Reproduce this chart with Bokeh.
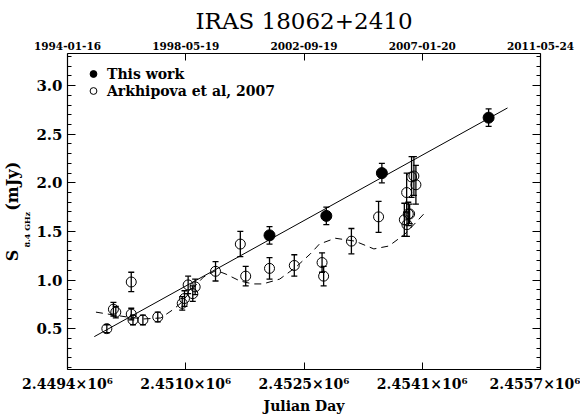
from bokeh.plotting import figure
from bokeh.models import (ColumnDataSource, Range1d, LinearAxis, FixedTicker,
                          SingleIntervalTicker, Whisker, TeeHead, Legend, LegendItem,
                          PrintfTickFormatter, CustomJSTickFormatter, Title)
from bokeh.embed import file_html
from bokeh.resources import INLINE

# ---------------- data ----------------
title_text = "IRAS 18062+2410"
x_label = "Julian Day"
y_label_main = "S\u00a0\u00a0\u00a0\u00a0\u00a0\u00a0\u00a0(mJy)"
y_label_sub = "8.4 GHz"

x_ticks = [2449368, 2450952, 2452536, 2454120, 2455704]
x_tick_labels = ["2.4494\u00d710\u2076", "2.4510\u00d710\u2076", "2.4525\u00d710\u2076",
                 "2.4541\u00d710\u2076", "2.4557\u00d710\u2076"]
date_tick_labels = ["1994-01-16", "1998-05-19", "2002-09-19", "2007-01-20", "2011-05-24"]

this_jd = [2452074, 2452835, 2453579, 2455009]
this_flux = [1.46, 1.66, 2.10, 2.67]
this_err = [0.09, 0.09, 0.10, 0.09]

ark_jd = [2449895, 2449983, 2450015, 2450222, 2450222, 2450245, 2450378, 2450577,
          2450905, 2450935, 2450984, 2451046, 2451078, 2451351, 2451683, 2451755,
          2452074, 2452406, 2452778, 2452799, 2453171, 2453535,
          2453880, 2453911, 2453915, 2453933, 2453951, 2453977, 2454008, 2454035]
ark_flux = [0.50, 0.70, 0.67, 0.98, 0.65, 0.59, 0.59, 0.62,
            0.76, 0.81, 0.95, 0.86, 0.93, 1.09, 1.37, 1.04,
            1.12, 1.15, 1.18, 1.04, 1.40, 1.65,
            1.62, 1.90, 1.57, 1.68, 1.68, 2.06, 2.07, 1.98]
ark_err = [0.04, 0.07, 0.06, 0.10, 0.06, 0.05, 0.05, 0.05,
           0.07, 0.08, 0.09, 0.08, 0.08, 0.10, 0.13, 0.10,
           0.11, 0.11, 0.10, 0.10, 0.13, 0.16,
           0.17, 0.20, 0.12, 0.12, 0.10, 0.21, 0.20, 0.20]

fit_jd = [2449727, 2455262]
fit_flux = [0.418, 2.77]

curve_jd = [2449749, 2449992, 2450165, 2450391, 2450617, 2450790, 2450896, 2451055,
            2451188, 2451360, 2451493, 2451679, 2451852, 2451985, 2452211, 2452423,
            2452622, 2452742, 2452955, 2453220, 2453472, 2453672, 2453884, 2454044, 2454177]
curve_flux = [0.67, 0.64, 0.62, 0.60, 0.61, 0.70, 0.77, 0.92,
              1.03, 1.10, 1.06, 0.99, 0.96, 0.96, 1.01, 1.13,
              1.27, 1.37, 1.43, 1.40, 1.32, 1.35, 1.47, 1.60, 1.71]

# ---------------- styling ----------------
SERIF = "DejaVu Serif"

p = figure(width=580, height=416, output_backend="svg", toolbar_location=None,
           x_range=Range1d(x_ticks[0], x_ticks[-1]), y_range=Range1d(0.08, 3.33),
           x_axis_type=None, y_axis_type=None,
           min_border_left=63, min_border_right=40, min_border_top=53, min_border_bottom=47)
p.grid.visible = False
p.outline_line_color = None
p.background_fill_color = "white"

p.title.text = title_text
p.title.align = "center"
p.title.text_font = SERIF
p.title.text_font_style = "normal"
p.title.text_font_size = "23px"
p.title.text_color = "black"
p.title.standoff = 10


def style_axis(ax, label_size):
    ax.axis_line_color = "black"
    ax.axis_line_width = 1.2
    ax.major_tick_line_color = "black"
    ax.minor_tick_line_color = "black"
    ax.major_tick_in = 7
    ax.major_tick_out = 0
    ax.minor_tick_in = 4
    ax.minor_tick_out = 0
    ax.major_label_text_font = SERIF
    ax.major_label_text_font_style = "bold"
    ax.major_label_text_font_size = label_size
    ax.major_label_text_color = "black"


xb = LinearAxis(ticker=FixedTicker(ticks=x_ticks),
                major_label_overrides={t: l for t, l in zip(x_ticks, x_tick_labels)})
style_axis(xb, "14px")
xb.major_label_standoff = 6
xb.axis_label = x_label
xb.axis_label_text_font = SERIF
xb.axis_label_text_font_style = "bold"
xb.axis_label_text_font_size = "14px"
xb.axis_label_text_color = "black"
xb.axis_label_standoff = 3
p.add_layout(xb, "below")

xt = LinearAxis(ticker=FixedTicker(ticks=x_ticks),
                major_label_overrides={t: l for t, l in zip(x_ticks, date_tick_labels)})
style_axis(xt, "10.5px")
xt.major_label_standoff = 4
p.add_layout(xt, "above")

yl = LinearAxis(ticker=SingleIntervalTicker(interval=0.5, num_minor_ticks=5),
                formatter=PrintfTickFormatter(format="%.1f"))
style_axis(yl, "15px")
yl.major_tick_in = 8
yl.major_label_standoff = 5
p.add_layout(yl, "left")

# y-axis label: subscript next to the axis, main text outside it
t_sub = Title(text=y_label_sub, align="left", offset=122, vertical_align="top",
              text_font=SERIF, text_font_style="bold", text_font_size="8px",
              text_color="black", standoff=0)
p.add_layout(t_sub, "left")
t_main = Title(text=y_label_main, align="center", vertical_align="bottom",
               text_font=SERIF, text_font_style="bold", text_font_size="16px",
               text_color="black", standoff=0)
p.add_layout(t_main, "left")

yr = LinearAxis(ticker=SingleIntervalTicker(interval=0.5, num_minor_ticks=5),
                formatter=CustomJSTickFormatter(code="return ''"))
style_axis(yr, "1px")
yr.major_tick_in = 8
yr.major_label_standoff = 0
p.add_layout(yr, "right")

# curves
p.line(curve_jd, curve_flux, line_color="black", line_dash="7 5", line_width=1)
p.line(fit_jd, fit_flux, line_color="black", line_width=1)

# error bars
src_ark = ColumnDataSource(dict(x=ark_jd, y=ark_flux,
                                lo=[f - e for f, e in zip(ark_flux, ark_err)],
                                hi=[f + e for f, e in zip(ark_flux, ark_err)]))
src_this = ColumnDataSource(dict(x=this_jd, y=this_flux,
                                 lo=[f - e for f, e in zip(this_flux, this_err)],
                                 hi=[f + e for f, e in zip(this_flux, this_err)]))
for src in (src_ark, src_this):
    w = Whisker(source=src, base="x", lower="lo", upper="hi", dimension="height",
                line_color="black", line_width=1.3,
                upper_head=TeeHead(size=6, line_color="black", line_width=1.3),
                lower_head=TeeHead(size=6, line_color="black", line_width=1.3))
    p.add_layout(w)

r_ark = p.scatter("x", "y", source=src_ark, size=10, marker="circle",
                  fill_color=None, line_color="black", line_width=1)
r_this = p.scatter("x", "y", source=src_this, size=11, marker="circle",
                   fill_color="black", line_color="black")

legend = Legend(items=[LegendItem(label="This work", renderers=[r_this]),
                       LegendItem(label="Arkhipova et al, 2007", renderers=[r_ark])],
                location="top_left", margin=12, padding=0, spacing=0,
                glyph_width=28, glyph_height=17, label_height=14, label_standoff=0,
                label_text_font=SERIF, label_text_font_style="bold",
                label_text_font_size="14px", label_text_color="black",
                background_fill_alpha=0, border_line_color=None)
p.add_layout(legend, "center")

open("out.html", "w").write(file_html(p, INLINE))
